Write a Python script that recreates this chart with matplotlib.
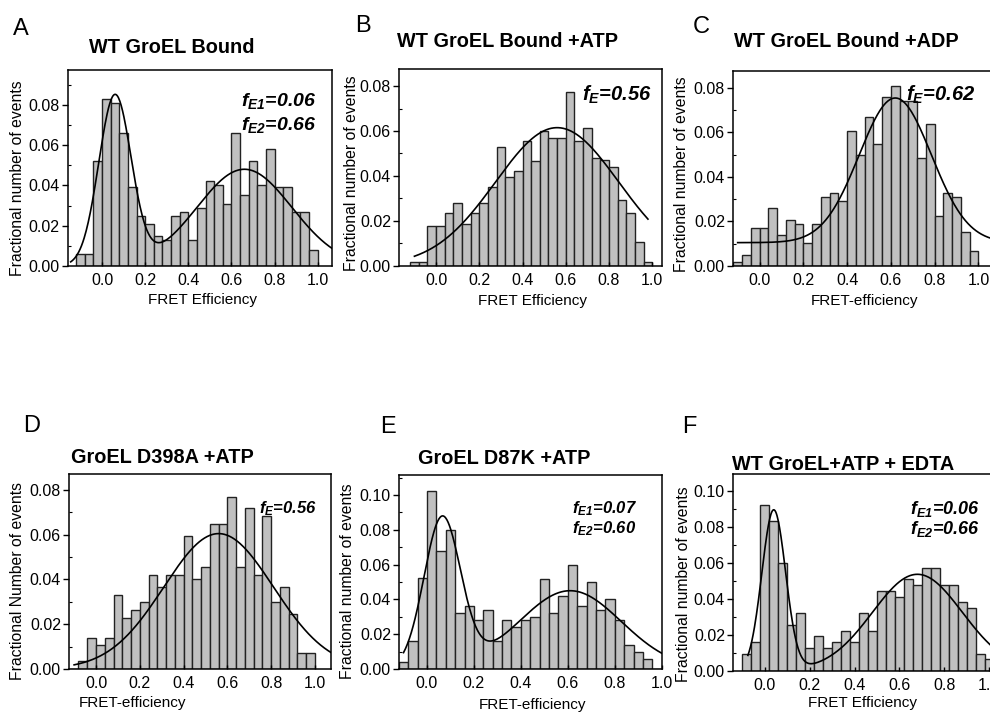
import matplotlib
matplotlib.use("Agg")
import matplotlib.pyplot as plt
import numpy as np
from matplotlib.ticker import MultipleLocator

plt.rcParams['font.family'] = ['Liberation Sans', 'DejaVu Sans']
plt.rcParams['mathtext.fontset'] = 'custom'
plt.rcParams['mathtext.rm'] = 'Liberation Sans'
plt.rcParams['mathtext.it'] = 'Liberation Sans:italic'
plt.rcParams['mathtext.bf'] = 'Liberation Sans:bold'
plt.rcParams['mathtext.bfit'] = 'Liberation Sans:italic:bold'

# left bin edges (width 0.04), 28 bins
bins = np.round(-0.12 + 0.04 * np.arange(28), 2)
bins_f = np.round(-0.10 + 0.04 * np.arange(28), 2)

heights_a = [0.006, 0.006, 0.052, 0.083, 0.081, 0.066, 0.039, 0.025, 0.021, 0.015,
             0.013, 0.025, 0.027, 0.013, 0.029, 0.042, 0.040, 0.031, 0.066, 0.035,
             0.052, 0.040, 0.058, 0.039, 0.039, 0.027, 0.027, 0.008]
heights_b = [0.0016, 0.0016, 0.0175, 0.0175, 0.0233, 0.0278, 0.0188, 0.0233, 0.0278, 0.0352,
             0.0527, 0.0395, 0.0423, 0.0557, 0.0468, 0.0601, 0.0570, 0.0570, 0.0775, 0.0555,
             0.0614, 0.0481, 0.0469, 0.0438, 0.0292, 0.0233, 0.0104, 0.0016]
heights_c = [0.0016, 0.005, 0.0172, 0.0172, 0.026, 0.0138, 0.0205, 0.019, 0.0105, 0.019,
             0.031, 0.0327, 0.029, 0.0605, 0.050, 0.067, 0.055, 0.0758, 0.081, 0.074,
             0.074, 0.0484, 0.0637, 0.0223, 0.0327, 0.031, 0.0154, 0.0069]
heights_d = [0.0, 0.0036, 0.014, 0.0106, 0.014, 0.0332, 0.0226, 0.0265, 0.0298, 0.042,
             0.0366, 0.042, 0.042, 0.0594, 0.040, 0.0454, 0.065, 0.065, 0.077, 0.0454,
             0.072, 0.042, 0.0682, 0.0298, 0.0366, 0.0244, 0.007, 0.007]
heights_e = [0.004, 0.016, 0.0525, 0.1025, 0.068, 0.080, 0.032, 0.036, 0.028, 0.034,
             0.016, 0.028, 0.024, 0.028, 0.030, 0.052, 0.032, 0.042, 0.060, 0.036,
             0.050, 0.034, 0.040, 0.028, 0.014, 0.010, 0.006, 0.0]
heights_f = [0.0095, 0.016, 0.092, 0.083, 0.060, 0.0255, 0.032, 0.0125, 0.019, 0.0125,
             0.016, 0.022, 0.016, 0.032, 0.022, 0.0445, 0.0445, 0.041, 0.051, 0.0475,
             0.057, 0.057, 0.0475, 0.0475, 0.038, 0.035, 0.0095, 0.0065]

# gaussian fit parameters: baseline, centers, amplitudes, widths, x range
fit_a = dict(y0=0.0, xc=[0.06, 0.66], amp=[0.084, 0.048], w=[0.075, 0.22], rng=(-0.145, 1.1))
fit_b = dict(y0=0.0, xc=[0.56], amp=[0.0615], w=[0.285], rng=(-0.10, 0.98))
fit_c = dict(y0=0.0105, xc=[0.62], amp=[0.065], w=[0.165], rng=(-0.10, 1.1))
fit_d = dict(y0=0.0, xc=[0.56], amp=[0.0605], w=[0.25], rng=(-0.10, 1.1))
fit_e = dict(y0=0.0, xc=[0.065, 0.61], amp=[0.086, 0.045], w=[0.078, 0.218], rng=(-0.10, 1.0))
fit_f = dict(y0=0.0, xc=[0.04, 0.68], amp=[0.089, 0.0535], w=[0.053, 0.20], rng=(-0.075, 1.1))

titles = ['WT GroEL Bound', 'WT GroEL Bound +ATP', 'WT GroEL Bound +ADP',
          'GroEL D398A +ATP', 'GroEL D87K +ATP', 'WT GroEL+ATP + EDTA']
letters = ['A', 'B', 'C', 'D', 'E', 'F']
ylabels = ['Fractional number of events'] * 3 + ['Fractional Number of events'] + ['Fractional number of events'] * 2
xlabels = ['FRET Efficiency', 'FRET Efficiency', 'FRET-efficiency',
           'FRET-efficiency', 'FRET-efficiency', 'FRET Efficiency']
notes = [['E1', '0.06', 'E2', '0.66'], ['E', '0.56'], ['E', '0.62'],
         ['E', '0.56'], ['E1', '0.07', 'E2', '0.60'], ['E1', '0.06', 'E2', '0.66']]

W, H = 990, 717
fig = plt.figure(figsize=(W / 100, H / 100), dpi=100)

def fx(x):
    return x / W

def fy(y):
    return 1 - y / H

# axes boxes in pixels: left, top, right, bottom
boxes = [(67.7, 69.5, 332, 266), (399.3, 69.3, 662, 265.7), (733.3, 71.3, 996, 266),
         (69.3, 474.3, 331, 669), (399.3, 475, 661.7, 669), (733.3, 474.3, 996, 670.7)]
xlims = [(-0.159, 1.066), (-0.17, 1.045), (-0.12, 1.08),
         (-0.122, 1.073), (-0.118, 1.0), (-0.14, 1.03)]
ytops = [0.0975, 0.0875, 0.0875, 0.087, 0.1115, 0.109]
ymaxtick = [0.08, 0.08, 0.08, 0.08, 0.10, 0.10]
title_pos = [(172, 53), (507.5, 47), (846, 47), (162, 463), (504, 464), (843.5, 470)]
letter_pos = [(13, 35), (355, 32), (693, 33), (23, 432), (380, 433), (682, 433)]
ylab_pos = [(18, 178), (351, 173), (681, 174), (18, 581), (347, 581), (683, 584)]
xlab_pos = [(203, 300), (533, 301), (864, 301), (133, 703), (532, 705), (863, 703)]
note_xy = [(0.939, 0.89, 0.77), (0.961, 0.925), (0.923, 0.935),
           (0.945, 0.872), (0.905, 0.875, 0.77), (0.938, 0.873, 0.77)]
note_fs = [14, 14.5, 14.5, 12, 12, 13]

heights = [heights_a, heights_b, heights_c, heights_d, heights_e, heights_f]
edges = [bins, bins, bins, bins, bins, bins_f]
fits = [fit_a, fit_b, fit_c, fit_d, fit_e, fit_f]
xt = [0.0, 0.2, 0.4, 0.6, 0.8, 1.0]

for i in range(6):
    l, t, r, b = boxes[i]
    ax = fig.add_axes([fx(l), fy(b), (r - l) / W, (b - t) / H])
    ax.bar(edges[i], heights[i], width=0.04, align='edge', color='#c0c0c0',
           edgecolor='#222222', linewidth=1.0)
    f = fits[i]
    xs = np.linspace(f['rng'][0], f['rng'][1], 400)
    ys = np.full_like(xs, f['y0'])
    for c, a, w in zip(f['xc'], f['amp'], f['w']):
        ys = ys + a * np.exp(-(xs - c) ** 2 / (2 * w ** 2))
    ax.plot(xs, ys, color='black', linewidth=1.2)

    ax.set_xlim(*xlims[i])
    ax.set_ylim(0, ytops[i])
    ax.set_xticks(xt)
    ax.set_xticklabels(['%.1f' % v for v in xt])
    yt = [k * 0.02 for k in range(int(round(ymaxtick[i] / 0.02)) + 1)]
    ax.set_yticks(yt)
    ax.set_yticklabels(['%.2f' % v for v in yt])
    ax.yaxis.set_minor_locator(MultipleLocator(0.01))
    ax.tick_params(axis='y', which='major', direction='out', length=4, width=1,
                   labelsize=11.5, pad=2)
    ax.tick_params(axis='y', which='minor', direction='in', length=2.5, width=0.8)
    ax.tick_params(axis='x', which='major', direction='in', length=3, width=1,
                   labelsize=11.5, pad=5)
    for s in ax.spines.values():
        s.set_linewidth(1.1)

    n = notes[i]
    xy = note_xy[i]
    ax.text(xy[0], xy[1], r'$\mathbfit{f}_{\mathbfit{%s}}$=%s' % (n[0], n[1]),
            transform=ax.transAxes, ha='right', va='top', fontsize=note_fs[i],
            fontweight='bold', fontstyle='italic')
    if len(n) > 2:
        ax.text(xy[0], xy[2], r'$\mathbfit{f}_{\mathbfit{%s}}$=%s' % (n[2], n[3]),
                transform=ax.transAxes, ha='right', va='top', fontsize=note_fs[i],
                fontweight='bold', fontstyle='italic')

    fig.text(fx(title_pos[i][0]), fy(title_pos[i][1]), titles[i], ha='center',
             va='baseline', fontsize=14.3, fontweight='bold')
    fig.text(fx(letter_pos[i][0]), fy(letter_pos[i][1]), letters[i], ha='left',
             va='baseline', fontsize=17)
    fig.text(fx(ylab_pos[i][0]), fy(ylab_pos[i][1]), ylabels[i], ha='center',
             va='center', rotation=90, fontsize=11.3)
    fig.text(fx(xlab_pos[i][0]), fy(xlab_pos[i][1]), xlabels[i], ha='center',
             va='center', fontsize=11)

fig.savefig('out.png', dpi=100)
